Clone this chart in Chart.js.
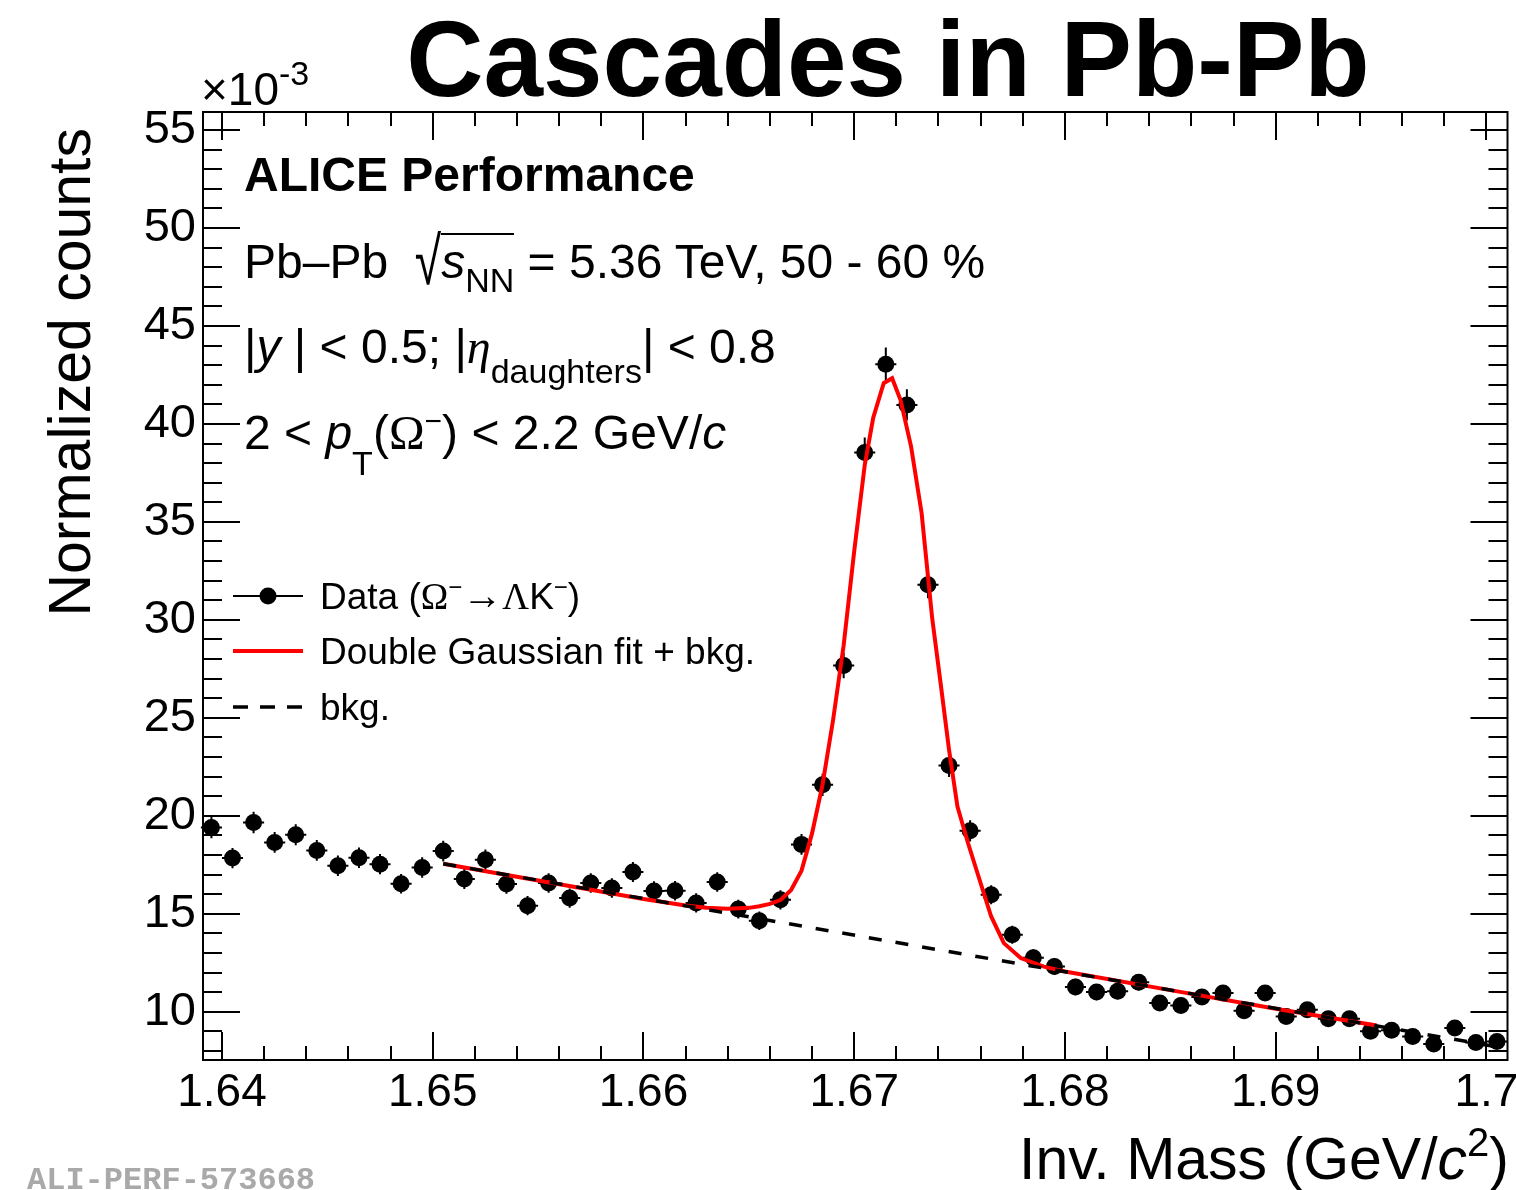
<!DOCTYPE html>
<html><head><meta charset="utf-8">
<script src="https://cdn.jsdelivr.net/npm/chart.js@4.4.1/dist/chart.umd.min.js"></script>
<style>
body{margin:0;background:#fff;}
#wrap{position:relative;width:1516px;height:1190px;overflow:hidden;font-family:"Liberation Sans",Arial,sans-serif;color:#000;background:#fff;}
canvas{position:absolute;left:0;top:0;}
.t{position:absolute;white-space:nowrap;line-height:1;}
.sub{position:relative;font-size:0.72em;line-height:0;}
.serif{font-family:"Liberation Serif","DejaVu Serif",serif;}
</style></head><body>
<div id="wrap">
<canvas id="c" width="1516" height="1190"></canvas>
<div class="t" style="left:888px;top:6px;font-size:107px;font-weight:bold;transform:translateX(-50%);">Cascades in Pb-Pb</div>
<div class="t" style="left:201px;top:66px;font-size:46px;">×10<span class="sub" style="font-size:34px;top:-20px;">-3</span></div>
<div class="t" style="left:244px;top:151px;font-size:48px;font-weight:bold;">ALICE Performance</div>
<div class="t" style="left:244px;top:238px;font-size:48px;">Pb–Pb&nbsp; <span style="display:inline-block;transform:scaleY(1.4);transform-origin:50% 70%;line-height:0;">√</span><span style="border-top:2px solid #000;"><i>s</i><span class="sub" style="top:14px;font-size:34px;">NN</span></span> = 5.36 TeV, 50 - 60 %</div>
<div class="t" style="left:244px;top:323px;font-size:48px;">|<i>y</i> | &lt; 0.5; |<i class="serif">η</i><span class="sub" style="top:20px;font-size:34px;">daughters</span>| &lt; 0.8</div>
<div class="t" style="left:244px;top:409px;font-size:48px;">2 &lt; <i>p</i><span class="sub" style="top:26px;font-size:34px;">T</span>(<span class="serif">Ω</span><span class="sub" style="top:-18px;font-size:30px;">−</span>) &lt; 2.2 GeV/<i>c</i></div>
<div class="t" style="left:320px;top:578px;font-size:37px;">Data (<span class="serif">Ω</span><span class="sub" style="top:-14px;font-size:24px;">−</span><span style="font-size:40px;line-height:0;">→</span><span class="serif">Λ</span>K<span class="sub" style="top:-14px;font-size:24px;">−</span>)</div>
<div class="t" style="left:320px;top:633px;font-size:37px;">Double Gaussian fit + bkg.</div>
<div class="t" style="left:320px;top:689px;font-size:37px;">bkg.</div>
<div class="t" style="right:7px;top:1130px;font-size:59px;">Inv. Mass (GeV/<i>c</i><span class="sub" style="top:-23px;font-size:40px;">2</span>)</div>
<div class="t" style="left:41px;top:728px;width:600px;text-align:right;font-size:59px;transform:rotate(-90deg);transform-origin:0 0;">Normalized counts</div>
<div class="t" style="left:27px;top:1165px;font-size:32px;font-weight:bold;color:#a9a9a9;font-family:'Liberation Mono','DejaVu Sans Mono',monospace;">ALI-PERF-573668</div>
</div>
<script>
// ---- data (values ×10^-3) ----
const massBins = [1.6395,1.6405,1.6415,1.6425,1.6435,1.6445,1.6455,1.6465,1.6475,1.6485,
  1.6495,1.6505,1.6515,1.6525,1.6535,1.6545,1.6555,1.6565,1.6575,1.6585,
  1.6595,1.6605,1.6615,1.6625,1.6635,1.6645,1.6655,1.6665,1.6675,1.6685,
  1.6695,1.6705,1.6715,1.6725,1.6735,1.6745,1.6755,1.6765,1.6775,1.6785,
  1.6795,1.6805,1.6815,1.6825,1.6835,1.6845,1.6855,1.6865,1.6875,1.6885,
  1.6895,1.6905,1.6915,1.6925,1.6935,1.6945,1.6955,1.6965,1.6975,1.6985,
  1.6995,1.7005];
const counts = [19.4,17.84,19.66,18.64,19.03,18.23,17.45,17.86,17.53,16.53,
  17.36,18.2,16.77,17.76,16.52,15.41,16.57,15.8,16.57,16.31,
  17.13,16.16,16.17,15.55,16.62,15.24,14.64,15.71,18.54,21.58,
  27.67,38.54,43.05,40.97,31.79,22.57,19.23,15.97,13.93,12.75,
  12.31,11.26,11.0,11.04,11.5,10.44,10.32,10.75,10.95,10.05,
  10.95,9.76,10.1,9.64,9.64,9.0,9.05,8.74,8.35,9.17,
  8.43,8.48];
const countErrors = [0.55,0.52,0.55,0.53,0.54,0.53,0.52,0.52,0.52,0.5,
  0.52,0.53,0.51,0.52,0.5,0.49,0.5,0.49,0.5,0.5,
  0.51,0.5,0.5,0.49,0.5,0.48,0.47,0.49,0.53,0.57,
  0.65,0.77,0.85,0.8,0.69,0.59,0.54,0.49,0.46,0.44,
  0.43,0.42,0.41,0.41,0.42,0.4,0.4,0.41,0.41,0.39,
  0.41,0.39,0.39,0.38,0.38,0.37,0.37,0.37,0.36,0.38,
  0.36,0.36];
const binHalfWidth = 0.0005;
const fitMass = [1.6505,1.655,1.66,1.662,1.663,1.664,1.665,1.6655,1.666,1.6665,
  1.667,1.6675,1.668,1.6685,1.669,1.6695,1.67,1.6705,1.6709,1.6714,
  1.6718,1.6722,1.6727,1.6732,1.6737,1.6741,1.6745,1.6749,1.6754,1.6759,
  1.6765,1.6771,1.6779,1.679,1.68,1.685,1.69,1.6948];
const fitValues = [17.55,16.7,15.75,15.42,15.3,15.25,15.3,15.38,15.5,15.7,
  16.2,17.2,19.1,21.6,24.9,28.7,33.5,37.9,40.3,42.08,
  42.33,41.22,38.84,35.44,30.09,26.77,23.37,20.47,18.61,16.9,
  14.86,13.5,12.74,12.3,12.05,11.1,10.15,9.3];
const bkgMass = [1.6505,1.7005];
const bkgValues = [17.55,8.21];
const xTickValues = [1.64,1.65,1.66,1.67,1.68,1.69,1.70];
const xTickLabels = ['1.64','1.65','1.66','1.67','1.68','1.69','1.7'];
const yTickValues = [10,15,20,25,30,35,40,45,50,55];
const yTickLabels = ['10','15','20','25','30','35','40','45','50','55'];

const FONT = '"Liberation Sans", Arial, sans-serif';

const errorBars = {
  id:'errorBars',
  beforeDatasetsDraw(chart){
    const {ctx, scales:{x,y}} = chart;
    ctx.save();
    ctx.strokeStyle='#000'; ctx.lineWidth=2;
    ctx.beginPath();
    massBins.forEach((m,i)=>{
      const px=x.getPixelForValue(m), py=y.getPixelForValue(counts[i]);
      ctx.moveTo(px, y.getPixelForValue(counts[i]-countErrors[i]));
      ctx.lineTo(px, y.getPixelForValue(counts[i]+countErrors[i]));
      ctx.moveTo(x.getPixelForValue(m-binHalfWidth), py);
      ctx.lineTo(x.getPixelForValue(m+binHalfWidth), py);
    });
    ctx.stroke();
    ctx.restore();
  }
};

const frameTicks = {
  id:'frameTicks',
  afterDraw(chart){
    const {ctx, chartArea:a, scales:{x,y}} = chart;
    ctx.save();
    ctx.strokeStyle='#000'; ctx.lineWidth=2;
    ctx.strokeRect(a.left,a.top,a.right-a.left,a.bottom-a.top);
    ctx.beginPath();
    for(let k=0;k<=30;k++){
      const v=1.64+k*0.002, px=Math.round(x.getPixelForValue(v));
      const L=(k%5===0)?28:14;
      ctx.moveTo(px,a.bottom); ctx.lineTo(px,a.bottom-L);
      ctx.moveTo(px,a.top); ctx.lineTo(px,a.top+L);
    }
    for(let v=8;v<=55;v++){
      const py=Math.round(y.getPixelForValue(v));
      const L=(v%5===0)?37:19;
      ctx.moveTo(a.left,py); ctx.lineTo(a.left+L,py);
      ctx.moveTo(a.right,py); ctx.lineTo(a.right-L,py);
    }
    ctx.stroke();
    // legend symbols
    ctx.beginPath(); ctx.moveTo(233,596); ctx.lineTo(303,596); ctx.stroke();
    ctx.fillStyle='#000'; ctx.beginPath(); ctx.arc(268,596,8.5,0,Math.PI*2); ctx.fill();
    ctx.strokeStyle='#ff0000'; ctx.lineWidth=4;
    ctx.beginPath(); ctx.moveTo(233,651); ctx.lineTo(303,651); ctx.stroke();
    ctx.strokeStyle='#000'; ctx.lineWidth=3.5; ctx.setLineDash([15,12]);
    ctx.beginPath(); ctx.moveTo(233,707); ctx.lineTo(303,707); ctx.stroke();
    ctx.restore();
  }
};

new Chart(document.getElementById('c'), {
  type:'scatter',
  data:{
    datasets:[
      {label:'bkg.', type:'line', order:0,
       data:bkgMass.map((m,i)=>({x:m,y:bkgValues[i]})),
       borderColor:'#000', borderWidth:3.5, borderDash:[13,14], pointRadius:0, fill:false, tension:0},
      {label:'Double Gaussian fit + bkg.', type:'line', order:1,
       data:fitMass.map((m,i)=>({x:m,y:fitValues[i]})),
       borderColor:'#ff0000', borderWidth:4, pointRadius:0, fill:false, tension:0},
      {label:'Data', order:2,
       data:massBins.map((m,i)=>({x:m,y:counts[i]})),
       pointRadius:8.5, pointBackgroundColor:'#000', pointBorderColor:'#000', pointBorderWidth:0, showLine:false}
    ]
  },
  options:{
    responsive:false, animation:false, events:[], devicePixelRatio:1,
    layout:{padding:{left:0,right:7,top:112,bottom:0}},
    plugins:{legend:{display:false}, tooltip:{enabled:false}, title:{display:false}},
    scales:{
      x:{type:'linear', min:1.6391, max:1.701,
        afterBuildTicks:s=>{s.ticks=xTickValues.map(v=>({value:v}));},
        afterFit:s=>{s.height=130; s.paddingLeft=0; s.paddingRight=0;},
        ticks:{callback:(v,i)=>xTickLabels[i], font:{family:FONT,size:46}, color:'#000', padding:6, maxRotation:0, autoSkip:false},
        grid:{display:false, drawTicks:false}, border:{display:false}},
      y:{type:'linear', min:7.535, max:55.92,
        afterBuildTicks:s=>{s.ticks=yTickValues.map(v=>({value:v}));},
        afterFit:s=>{s.width=203; s.paddingTop=0; s.paddingBottom=0;},
        ticks:{callback:(v,i)=>yTickLabels[i], font:{family:FONT,size:47}, color:'#000', padding:7, autoSkip:false},
        grid:{display:false, drawTicks:false}, border:{display:false}}
    }
  },
  plugins:[errorBars, frameTicks]
});
</script>
</body></html>
